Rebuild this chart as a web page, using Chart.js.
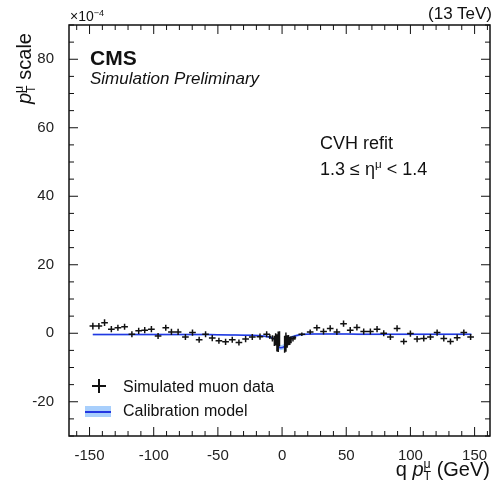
<!DOCTYPE html>
<html>
<head>
<meta charset="utf-8">
<script src="https://cdn.jsdelivr.net/npm/chart.js@4.4.1/dist/chart.umd.min.js"></script>
<style>
  body { margin: 0; background: #fff; }
  #wrap { position: relative; width: 492px; height: 482px; font-family: 'Liberation Sans', Arial, Helvetica, sans-serif; color: #111; }
  #myChart { position: absolute; left: 0; top: 0; }
  .txt { position: absolute; white-space: nowrap; line-height: 1; }
  .ss { display: inline-block; vertical-align: -0.3em; font-size: 0.62em; line-height: 0.95; text-align: left; }
  .ss span { display: block; }
  .sup { font-size: 0.65em; vertical-align: 0.6em; }
</style>
</head>
<body>
<div id="wrap">
  <canvas id="myChart" width="492" height="482"></canvas>

  <div class="txt" style="left:70px; top:9px; font-size:14px;">&times;10<span class="sup">&minus;4</span></div>
  <div class="txt" style="right:0px; top:5px; font-size:17px;">(13 TeV)</div>
  <div class="txt" style="left:90px; top:47px; font-size:21px; font-weight:bold;">CMS</div>
  <div class="txt" style="left:90px; top:70px; font-size:17px; font-style:italic;">Simulation Preliminary</div>
  <div class="txt" style="left:320px; top:134px; font-size:18px;">CVH refit</div>
  <div class="txt" style="left:320px; top:158px; font-size:18px;">1.3 &le; &eta;<span class="sup">&mu;</span> &lt; 1.4</div>

  <!-- legend -->
  <div style="position:absolute; left:92px; top:385px; width:14px; height:1.5px; background:#111;"></div>
  <div style="position:absolute; left:98px; top:379px; width:1.5px; height:14px; background:#111;"></div>
  <div class="txt" style="left:123px; top:379px; font-size:16px;">Simulated muon data</div>
  <div style="position:absolute; left:85px; top:406px; width:26px; height:11px; background:rgba(110,175,250,0.6);"></div>
  <div style="position:absolute; left:85px; top:411px; width:26px; height:1.5px; background:rgb(35,55,225);"></div>
  <div class="txt" style="left:123px; top:403px; font-size:16px;">Calibration model</div>

  <!-- axis titles -->
  <div class="txt" style="right:2px; top:459px; font-size:20px;">q <i>p</i><span class="ss"><span>&mu;</span><span>T</span></span> (GeV)</div>
  <div class="txt" style="left:14px; top:104px; font-size:20px; transform-origin:0 0; transform:rotate(-90deg);"><i>p</i><span class="ss"><span>&mu;</span><span>T</span></span> scale</div>
</div>

<script>
// measured points (q pT in GeV, scale in units of 1e-4)
const qpt = [
  -147.4, -142.7, -138.3, -133.0, -127.9, -122.7, -117.0, -111.7, -107.0, -101.8,
  -96.6, -90.6, -86.2, -81.0, -75.3, -69.8, -64.6, -59.6, -54.4, -49.2,
  -44.0, -38.8, -33.6, -28.4, -23.2, -17.2, -12.0,
  -9.5, -7.5, -6.0, -5.0, -4.0, -3.0, -2.0,
  2.0, 3.0, 4.0, 5.0, 6.0, 7.0, 8.5, 10.0,
  15.4, 21.9, 27.1, 32.3, 37.5, 42.7, 47.9, 53.1, 58.3, 63.6,
  68.8, 74.0, 79.2, 84.4, 89.6, 94.8, 100.0, 105.2, 110.4, 115.6,
  120.8, 126.0, 131.2, 136.4, 141.6, 146.9
];
const scaleVal = [
  2.1, 2.1, 3.1, 1.2, 1.6, 1.9, -0.3, 0.7, 0.9, 1.2,
  -0.8, 1.6, 0.4, 0.4, -1.1, 0.2, -1.9, -0.3, -1.4, -2.2,
  -2.5, -1.9, -2.7, -1.7, -1.1, -1.0, -0.3,
  -1.0, -1.5, -2.2, -1.8, -2.8, -2.5, -1.6,
  -3.2, -2.6, -2.4, -2.0, -2.2, -1.9, -1.6, -1.3,
  -0.3, 0.4, 1.6, 0.5, 1.4, 0.4, 2.8, 0.9, 1.7, 0.5,
  0.5, 1.2, 0.0, -1.1, 1.4, -2.4, -0.1, -1.7, -1.5, -1.1,
  0.2, -1.5, -2.4, -1.3, 0.2, -1.1
];
const scaleErr = [
  1.0, 0.9, 1.0, 0.9, 0.9, 0.9, 0.9, 0.9, 0.9, 0.9,
  0.9, 0.9, 0.9, 0.9, 0.9, 0.9, 0.9, 0.9, 0.9, 0.9,
  0.9, 0.9, 0.9, 0.9, 0.9, 0.9, 0.9,
  0.7, 0.9, 1.5, 1.8, 2.5, 3.0, 2.2,
  2.5, 2.8, 1.8, 1.5, 1.2, 1.0, 0.8, 0.6,
  0.5, 0.7, 0.9, 0.9, 0.9, 0.9, 0.9, 0.9, 0.9, 0.9,
  0.9, 0.9, 0.9, 0.9, 0.9, 0.9, 0.9, 0.9, 0.9, 0.9,
  0.9, 0.9, 0.9, 0.9, 0.9, 0.9
];
const binHalf = [
  2.6, 2.6, 2.6, 2.6, 2.6, 2.6, 2.6, 2.6, 2.6, 2.6,
  2.6, 2.6, 2.6, 2.6, 2.6, 2.6, 2.6, 2.6, 2.6, 2.6,
  2.6, 2.6, 2.6, 2.6, 2.6, 2.6, 2.6,
  1.0, 1.0, 0.5, 0.5, 0.5, 0.5, 0.5,
  0.5, 0.5, 0.5, 0.5, 0.5, 0.5, 1.0, 1.0,
  2.6, 2.6, 2.6, 2.6, 2.6, 2.6, 2.6, 2.6, 2.6, 2.6,
  2.6, 2.6, 2.6, 2.6, 2.6, 2.6, 2.6, 2.6, 2.6, 2.6,
  2.6, 2.6, 2.6, 2.6, 2.6, 2.6
];

// calibration model curve and its band half-width
const modelX = [-147.5, -120, -90, -60, -40, -25, -15, -10, -7, -5, -4, -3, -2, 2, 3, 4, 5, 7, 10, 15, 25, 40, 60, 90, 120, 147.5];
const modelY = [-0.4, -0.4, -0.4, -0.4, -0.5, -0.6, -0.8, -1.1, -1.5, -2.0, -2.5, -3.2, -4.2, -3.8, -2.9, -2.2, -1.7, -1.2, -0.8, -0.4, -0.2, -0.2, -0.3, -0.3, -0.3, -0.3];
const modelErr = [0.25, 0.25, 0.25, 0.25, 0.25, 0.25, 0.3, 0.35, 0.4, 0.45, 0.5, 0.6, 0.7, 0.7, 0.6, 0.5, 0.45, 0.4, 0.35, 0.3, 0.25, 0.25, 0.25, 0.25, 0.25, 0.25];

const xTicks = [-150, -100, -50, 0, 50, 100, 150];
const yTicks = [-20, 0, 20, 40, 60, 80];

const lineBlue = 'rgb(35,55,225)';
const bandBlue = 'rgba(110,175,250,0.6)';

const pts = qpt.map((x, i) => ({ x: x, y: scaleVal[i] }));
const modelPts = modelX.map((x, i) => ({ x: x, y: modelY[i] }));
const bandHi = modelX.map((x, i) => ({ x: x, y: modelY[i] + modelErr[i] }));
const bandLo = modelX.map((x, i) => ({ x: x, y: modelY[i] - modelErr[i] }));

// crosses (error bars) for the data
const errorBars = {
    id: 'errorBars',
    afterDatasetsDraw(chart) {
        const xs = chart.scales.x, ys = chart.scales.y, ctx = chart.ctx;
        ctx.save();
        ctx.strokeStyle = '#111';
        ctx.lineWidth = 1.5;
        ctx.beginPath();
        for (let i = 0; i < qpt.length; i++) {
            const px = xs.getPixelForValue(qpt[i]);
            const py = ys.getPixelForValue(scaleVal[i]);
            ctx.moveTo(xs.getPixelForValue(qpt[i] - binHalf[i]), py);
            ctx.lineTo(xs.getPixelForValue(qpt[i] + binHalf[i]), py);
            ctx.moveTo(px, ys.getPixelForValue(scaleVal[i] + scaleErr[i]));
            ctx.lineTo(px, ys.getPixelForValue(scaleVal[i] - scaleErr[i]));
        }
        ctx.stroke();
        ctx.restore();
    }
};

// ROOT style frame with inward ticks on all sides
const frameTicks = {
    id: 'frameTicks',
    afterDraw(chart) {
        const { ctx, chartArea: a, scales } = chart;
        const xs = scales.x, ys = scales.y;
        ctx.save();
        ctx.strokeStyle = '#111';
        ctx.lineWidth = 1.5;
        ctx.strokeRect(a.left, a.top, a.right - a.left, a.bottom - a.top);
        ctx.lineWidth = 1;
        ctx.beginPath();
        for (let v = -160; v <= 160; v += 10) {
            const p = xs.getPixelForValue(v);
            if (p < a.left || p > a.right) continue;
            const len = v % 50 === 0 ? 9 : 5;
            ctx.moveTo(p, a.bottom); ctx.lineTo(p, a.bottom - len);
            ctx.moveTo(p, a.top); ctx.lineTo(p, a.top + len);
        }
        for (let v = -30; v <= 90; v += 5) {
            const p = ys.getPixelForValue(v);
            if (p < a.top || p > a.bottom) continue;
            const len = v % 20 === 0 ? 9 : 5;
            ctx.moveTo(a.left, p); ctx.lineTo(a.left + len, p);
            ctx.moveTo(a.right, p); ctx.lineTo(a.right - len, p);
        }
        ctx.stroke();
        ctx.restore();
    }
};

const ctx = document.getElementById('myChart').getContext('2d');
new Chart(ctx, {
    type: 'scatter',
    data: {
        datasets: [
            { label: 'Simulated muon data', data: pts, pointRadius: 0, showLine: false },
            { label: 'Calibration model', data: modelPts, showLine: true, borderColor: lineBlue, borderWidth: 1.5, pointRadius: 0, fill: false, tension: 0.3 },
            { label: 'band hi', data: bandHi, showLine: true, borderWidth: 0, pointRadius: 0, backgroundColor: bandBlue, fill: '+1', tension: 0.3 },
            { label: 'band lo', data: bandLo, showLine: true, borderWidth: 0, pointRadius: 0, fill: false, tension: 0.3 }
        ]
    },
    options: {
        responsive: false,
        animation: false,
        devicePixelRatio: 1,
        layout: { padding: { top: 25, right: 2, left: 0, bottom: 0 } },
        plugins: { legend: { display: false }, tooltip: { enabled: false } },
        scales: {
            x: {
                type: 'linear',
                min: -166,
                max: 162,
                grid: { display: false },
                border: { display: false },
                afterBuildTicks: (s) => { s.ticks = xTicks.map(v => ({ value: v })); },
                afterFit: (s) => { s.height = 46; },
                ticks: { color: '#222', font: { family: "'Liberation Sans', Arial", size: 15 }, padding: 3, maxRotation: 0 }
            },
            y: {
                min: -30,
                max: 90,
                grid: { display: false },
                border: { display: false },
                afterBuildTicks: (s) => { s.ticks = yTicks.map(v => ({ value: v })); },
                afterFit: (s) => { s.width = 69; },
                ticks: { color: '#222', font: { family: "'Liberation Sans', Arial", size: 15 }, padding: 7 }
            }
        }
    },
    plugins: [errorBars, frameTicks]
});
</script>
</body>
</html>
